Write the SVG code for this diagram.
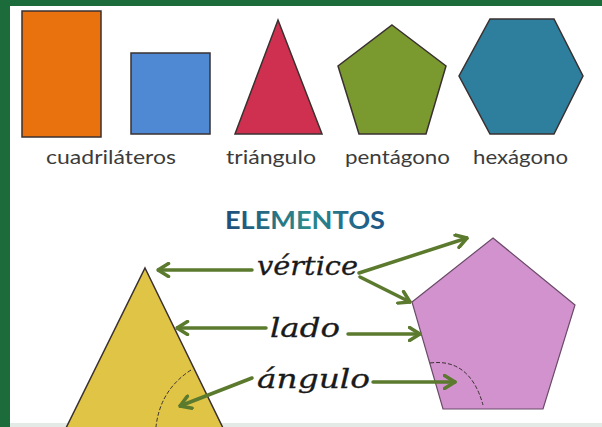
<svg xmlns="http://www.w3.org/2000/svg" width="602" height="427" viewBox="0 0 602 427">
<defs>
<style>
.lbl{font-family:Lato,"Open Sans","Liberation Sans",sans-serif;font-size:20px;fill:#3c3c3c}
.it{font-family:"DejaVu Serif","Liberation Serif",serif;font-style:italic;font-size:26px;fill:#1a1a1a;stroke:#1a1a1a;stroke-width:0.3}
.con{fill:none;stroke:#5b7a2e;stroke-width:3.5;stroke-linecap:round}
.shape{stroke:#3a3030;stroke-width:1.5;stroke-linejoin:miter}
.dash{fill:none;stroke:#3a3030;stroke-width:1;stroke-dasharray:4 2}
</style>
<marker id="ah" viewBox="0 0 14 16" refX="12.5" refY="8" markerWidth="14" markerHeight="16" markerUnits="userSpaceOnUse" orient="auto">
<path d="M2,1.5 L12.5,8 L2,14.5" fill="none" stroke="#5b7a2e" stroke-width="3.5" stroke-linecap="round" stroke-linejoin="round"/>
</marker>
<linearGradient id="tg" x1="0" y1="0" x2="1" y2="0">
<stop offset="0" stop-color="#1f4d7a"/>
<stop offset="0.5" stop-color="#2b8a8c"/>
<stop offset="1" stop-color="#1f5587"/>
</linearGradient>
</defs>
<rect x="0" y="0" width="602" height="427" fill="#ffffff"/>
<rect x="0" y="0" width="602" height="6" fill="#1c6b3a"/>
<rect x="0" y="0" width="10" height="427" fill="#1c6b3a"/>
<rect x="10" y="423" width="592" height="4" fill="#e4ebe6"/>

<g id="cuadrilateros">
<rect class="shape" x="22" y="11" width="79" height="126" fill="#e9710e"/>
<rect class="shape" x="131" y="53" width="79" height="81" fill="#4f88d3"/>
<text class="lbl" x="46" y="164" textLength="130" lengthAdjust="spacingAndGlyphs">cuadriláteros</text>
</g>
<g id="triangulo">
<polygon class="shape" points="278,20 322,134 235,134" fill="#d0304f"/>
<text class="lbl" x="226" y="164" textLength="90" lengthAdjust="spacingAndGlyphs">triángulo</text>
</g>
<g id="pentagono">
<polygon class="shape" points="392,25 446,66 426,134 359,134 338,66" fill="#7a9a2f"/>
<text class="lbl" x="345" y="164" textLength="105" lengthAdjust="spacingAndGlyphs">pentágono</text>
</g>
<g id="hexagono">
<polygon class="shape" points="490,19 554,19 583,76 554,134 490,134 459,76" fill="#2e7f9e"/>
<text class="lbl" x="473" y="164" textLength="95" lengthAdjust="spacingAndGlyphs">hexágono</text>
</g>

<g id="titulo">
<text x="225" y="229" textLength="160" lengthAdjust="spacingAndGlyphs" font-family="Lato,'Open Sans','Liberation Sans',sans-serif" font-weight="bold" font-size="25" fill="url(#tg)">ELEMENTOS</text>
</g>

<g id="triangulo-amarillo">
<polygon class="shape" points="145,268 224,430 65,430" fill="#e0c446"/>
<path class="dash" d="M191,370 Q160,390 156,427"/>
</g>
<g id="pentagono-rosa">
<polygon points="493,238 575,305 543,409 443,409 412,302" fill="#d192cd" stroke="#6a4a68" stroke-width="1.2"/>
<path class="dash" d="M430,363 Q470,358 483,405"/>
</g>

<g id="etiquetas">
<text class="it" x="257" y="275" textLength="101" lengthAdjust="spacingAndGlyphs">vértice</text>
<text class="it" x="270" y="337" textLength="70" lengthAdjust="spacingAndGlyphs">lado</text>
<text class="it" x="257" y="388" textLength="113" lengthAdjust="spacingAndGlyphs">ángulo</text>
</g>

<g id="conectores">
<path class="con" d="M252,270 L158,270" marker-end="url(#ah)"/>
<path class="con" d="M266,328 L177,328" marker-end="url(#ah)"/>
<path class="con" d="M252,378 L180,406" marker-end="url(#ah)"/>
<path class="con" d="M359,273 L467,238" marker-end="url(#ah)"/>
<path class="con" d="M360,277 L410,302" marker-end="url(#ah)"/>
<path class="con" d="M348,334 L420,334" marker-end="url(#ah)"/>
<path class="con" d="M373,382 L455,382" marker-end="url(#ah)"/>
</g>
</svg>
